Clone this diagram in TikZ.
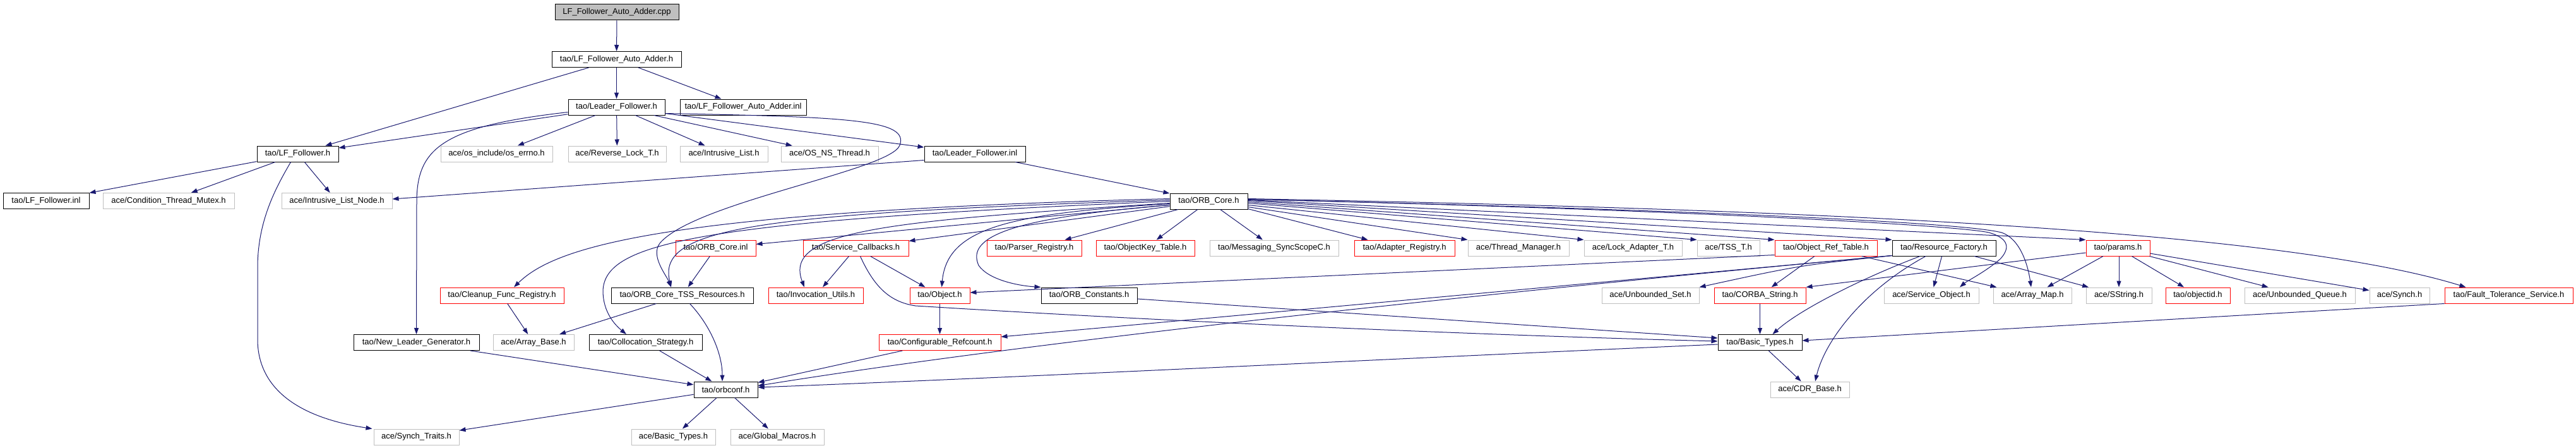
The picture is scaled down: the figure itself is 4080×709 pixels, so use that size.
\documentclass[tikz,border=0pt]{standalone}
\usepackage{fontspec}
\newfontfamily\nodefont{Liberation Sans}
\usetikzlibrary{arrows.meta}
\definecolor{edgec}{HTML}{191970}
\definecolor{grayb}{HTML}{BFBFBF}
\definecolor{redc}{HTML}{FF0000}
\newcommand\fnode[7]{\node[#1, minimum width={(#4-#3)*1pt}] (#2) at ({(#3+#4)/2},{(#5+#6)/2}) {#7};}
\begin{document}
\begin{tikzpicture}[x=1pt,y=-1pt,
  nbase/.style={draw, line width=1pt, minimum height=25pt, inner sep=0pt, text=black, font={\nodefont\fontsize{13}{15}\selectfont}},
  blk/.style={nbase, draw=black},
  gry/.style={nbase, draw=grayb},
  redb/.style={nbase, draw=redc},
  rootb/.style={nbase, draw=black, fill=grayb},
  dep/.style={draw=edgec, line width=1pt, -{Triangle[length=10pt,width=7pt]}}]
\fill[white] (0,0) rectangle (4080,709);
\useasboundingbox (0,0) rectangle (4080,709);
% nodes
\fnode{rootb}{root}{879}{1075}{7}{32}{LF\_Follower\_Auto\_Adder.cpp}
\fnode{blk}{aah}{874}{1079}{81}{107}{tao/LF\_Follower\_Auto\_Adder.h}
\fnode{blk}{lfh}{900}{1053}{157}{182}{tao/Leader\_Follower.h}
\fnode{blk}{aainl}{1077}{1277}{157}{182}{tao/LF\_Follower\_Auto\_Adder.inl}
\fnode{blk}{lffh}{407}{536}{231}{256}{tao/LF\_Follower.h}
\fnode{gry}{errno}{698}{875}{231}{256}{ace/os\_include/os\_errno.h}
\fnode{gry}{revlock}{900}{1055}{231}{256}{ace/Reverse\_Lock\_T.h}
\fnode{gry}{intrlist}{1077}{1216}{231}{256}{ace/Intrusive\_List.h}
\fnode{gry}{osns}{1237}{1391}{231}{256}{ace/OS\_NS\_Thread.h}
\fnode{blk}{lfinl}{1464}{1624}{231}{256}{tao/Leader\_Follower.inl}
\fnode{blk}{lffinl}{5}{141}{305}{331}{tao/LF\_Follower.inl}
\fnode{gry}{ctm}{163}{371}{305}{331}{ace/Condition\_Thread\_Mutex.h}
\fnode{gry}{iln}{446}{621}{305}{331}{ace/Intrusive\_List\_Node.h}
\fnode{blk}{orbcore}{1853}{1976}{306}{331}{tao/ORB\_Core.h}
% row 5
\fnode{redb}{orbinl}{1070}{1197}{380}{405}{tao/ORB\_Core.inl}
\fnode{redb}{svccb}{1272}{1439}{380}{405}{tao/Service\_Callbacks.h}
\fnode{redb}{parser}{1563}{1713}{380}{405}{tao/Parser\_Registry.h}
\fnode{redb}{okt}{1736}{1892}{380}{405}{tao/ObjectKey\_Table.h}
\fnode{gry}{msg}{1916}{2120}{380}{405}{tao/Messaging\_SyncScopeC.h}
\fnode{redb}{adapter}{2145}{2304}{380}{405}{tao/Adapter\_Registry.h}
\fnode{gry}{thrmgr}{2325}{2485}{380}{405}{ace/Thread\_Manager.h}
\fnode{gry}{lockad}{2509}{2664}{380}{405}{ace/Lock\_Adapter\_T.h}
\fnode{gry}{tss}{2688}{2787}{380}{405}{ace/TSS\_T.h}
\fnode{redb}{ort}{2811}{2973}{380}{405}{tao/Object\_Ref\_Table.h}
\fnode{blk}{resfac}{2997}{3161}{380}{405}{tao/Resource\_Factory.h}
\fnode{redb}{params}{3304}{3405}{380}{405}{tao/params.h}
% row 6
\fnode{redb}{cleanup}{697}{893}{455}{480}{tao/Cleanup\_Func\_Registry.h}
\fnode{blk}{tssres}{968}{1193}{455}{480}{tao/ORB\_Core\_TSS\_Resources.h}
\fnode{redb}{invut}{1217}{1367}{455}{480}{tao/Invocation\_Utils.h}
\fnode{redb}{object}{1441}{1536}{455}{480}{tao/Object.h}
\fnode{blk}{orbconst}{1649}{1801}{455}{480}{tao/ORB\_Constants.h}
\fnode{gry}{unbset}{2537}{2691}{455}{480}{ace/Unbounded\_Set.h}
\fnode{redb}{corbastr}{2715}{2860}{455}{480}{tao/CORBA\_String.h}
\fnode{gry}{svcobj}{2984}{3134}{455}{480}{ace/Service\_Object.h}
\fnode{gry}{arrmap}{3157}{3281}{455}{480}{ace/Array\_Map.h}
\fnode{gry}{sstring}{3304}{3408}{455}{480}{ace/SString.h}
\fnode{redb}{objid}{3430}{3532}{455}{480}{tao/objectid.h}
\fnode{gry}{unbq}{3555}{3730}{455}{480}{ace/Unbounded\_Queue.h}
\fnode{gry}{synch}{3753}{3848}{455}{480}{ace/Synch.h}
\fnode{redb}{ft}{3872}{4075}{455}{480}{tao/Fault\_Tolerance\_Service.h}
% row 7
\fnode{blk}{nlg}{560}{759}{529}{555}{tao/New\_Leader\_Generator.h}
\fnode{gry}{arrbase}{781}{909}{529}{555}{ace/Array\_Base.h}
\fnode{blk}{coll}{933}{1112}{529}{555}{tao/Collocation\_Strategy.h}
\fnode{redb}{cfgref}{1392}{1585}{529}{555}{tao/Configurable\_Refcount.h}
\fnode{blk}{basictao}{2721}{2854}{529}{555}{tao/Basic\_Types.h}
% row 8
\fnode{blk}{orbconf}{1099}{1200}{604}{629}{tao/orbconf.h}
\fnode{gry}{cdr}{2804}{2929}{604}{629}{ace/CDR\_Base.h}
% row 9
\fnode{gry}{synchtr}{592}{727}{679}{704}{ace/Synch\_Traits.h}
\fnode{gry}{basicace}{1000}{1133}{679}{704}{ace/Basic\_Types.h}
\fnode{gry}{globm}{1157}{1305}{679}{704}{ace/Global\_Macros.h}
% edges
\begin{scope}[every path/.append style={dep}]
\draw (root) -- (aah);
\draw (aah) -- (lfh);
\draw (aah) -- (aainl);
\draw (aah) -- (lffh);
\draw (lfh) -- (lffh);
\draw ([yshift=-8pt]lfh.west) .. controls (700,200) and (660,235) .. (660,320) -- (nlg.north);
\draw (lfh) -- (errno);
\draw (lfh) -- (revlock);
\draw (lfh) -- (intrlist);
\draw (lfh) -- (osns);
\draw (lfh) -- (lfinl);
\draw ([yshift=-10pt]lfh.east) .. controls (1350,185) and (1440,190) .. (1425,230) .. controls (1410,270) and (1100,320) .. (1045,385) .. controls (1030,405) and (1055,435) .. ([xshift=-17.5pt]tssres.north);
\draw ([yshift=3pt]lfinl.south west) -- ([yshift=3pt]iln.east);
\draw (lfinl) -- (orbcore);
\draw (lffh) -- (lffinl);
\draw (lffh) -- (ctm);
\draw (lffh) -- (iln);
\draw ([xshift=-11pt]lffh.south) .. controls (435,300) and (409,350) .. (408,420) -- (408,540) .. controls (410,620) and (480,662) .. ([xshift=-2pt]synchtr.north west);
% ORB_Core fan
\draw ([yshift=4pt]orbcore.west) .. controls (1050,335) and (880,390) .. ([xshift=19pt]cleanup.north);
\draw ([yshift=2pt]orbcore.west) .. controls (1200,338) and (1040,360) .. ([xshift=-17.5pt]tssres.north);
\draw (orbcore) -- (orbinl);
\draw (orbcore.west) .. controls (1100,350) and (958,385) .. (955,460) .. controls (955,495) and (975,515) .. ([xshift=-30.5pt]coll.north);
\draw (orbcore) -- (svccb);
\draw ([yshift=-3pt]orbcore.west) .. controls (1400,350) and (1240,365) .. ([xshift=-18pt]invut.north);
\draw ([yshift=-4pt]orbcore.west) .. controls (1600,338) and (1500,360) .. ([xshift=3pt]object.north);
\draw ([yshift=-6pt]orbcore.west) .. controls (1600,345) and (1530,375) .. (1550,420) .. controls (1565,442) and (1610,452) .. (orbconst.north west);
\draw (orbcore) -- (parser);
\draw (orbcore) -- (okt);
\draw (orbcore) -- (msg);
\draw ([yshift=-12pt]orbcore.east) -- ([xshift=22pt]adapter.north west);
\draw ([yshift=-9pt]orbcore.east) -- (thrmgr.north west);
\draw ([yshift=-6pt]orbcore.east) -- (lockad.north west);
\draw ([yshift=-3pt]orbcore.east) -- (tss.north west);
\draw ([yshift=-1pt]orbcore.east) -- (ort.north west);
\draw ([yshift=1pt]orbcore.east) -- (resfac.north west);
\draw ([yshift=3pt]orbcore.east) .. controls (2600,330) and (3090,355) .. (3150,368) .. controls (3185,378) and (3182,395) .. (3168,410) .. controls (3145,430) and (3115,445) .. ([xshift=45pt]svcobj.north);
\draw ([yshift=3pt]orbcore.east) .. controls (2600,330) and (3100,350) .. (3170,368) .. controls (3200,378) and (3212,420) .. ([xshift=-2pt]arrmap.north);
\draw ([yshift=2pt]orbcore.east) -- (params.north west);
\draw ([yshift=4pt]orbcore.east) .. controls (2800,330) and (3600,360) .. ([xshift=-68pt]ft.north);
% second level
\draw (orbinl) -- (tssres);
\draw (svccb) -- (invut);
\draw (svccb) -- (object);
\draw ([xshift=7pt]svccb.south) .. controls (1385,455) and (1410,478) .. (1450,484) .. controls (1900,512) and (2400,532) .. ([yshift=2pt]basictao.west);
\draw (object) -- (cfgref);
\draw ([yshift=2pt]ort.south west) -- ([yshift=4.5pt]object.east);
\draw (ort) -- (corbastr);
\draw (ort) -- (arrmap);
\draw ([yshift=1pt]resfac.south west) .. controls (2850,420) .. (unbset.north east);
\draw ([yshift=1pt]resfac.south west) .. controls (2500,450) and (1700,530) .. ([yshift=6pt]orbconf.east);
\draw ([yshift=1pt]resfac.south west) .. controls (2500,450) and (1900,505) .. ([yshift=9pt]cfgref.east);
\draw (resfac) -- (svcobj);
\draw (resfac) -- (sstring);
\draw ([xshift=-38pt]resfac.south) .. controls (2950,440) and (2850,490) .. ([xshift=20pt]basictao.north);
\draw ([xshift=-29pt]resfac.south) .. controls (2950,460) and (2890,540) .. ([xshift=8.5pt]cdr.north);
\draw ([yshift=-7.5pt]params.west) -- (corbastr.north east);
\draw (params) -- (arrmap);
\draw ([xshift=1.5pt]params.south) -- (sstring.north);
\draw (params) -- (objid);
\draw (params) -- (unbq);
\draw (params) -- (synch);
\draw (corbastr) -- (basictao);
\draw (basictao) -- (cdr);
\draw ([yshift=-3pt]basictao.west) .. controls (2200,568) and (1600,598) .. ([yshift=3.5pt]orbconf.east);
\draw ([yshift=-5.5pt]orbconst.east) -- ([yshift=7pt]basictao.west);
\draw (ft.south west) -- ([yshift=3pt]basictao.east);
\draw (cfgref) -- (orbconf);
\draw (tssres) -- (arrbase);
\draw ([xshift=12pt]tssres.south) .. controls (1125,515) and (1144,560) .. ([xshift=-5.5pt]orbconf.north);
\draw (cleanup) -- (arrbase);
\draw (nlg) -- (orbconf);
\draw (coll) -- (orbconf);
\draw (orbconf) -- (synchtr);
\draw (orbconf) -- (basicace);
\draw (orbconf) -- (globm);
\end{scope}
\end{tikzpicture}
\end{document}
